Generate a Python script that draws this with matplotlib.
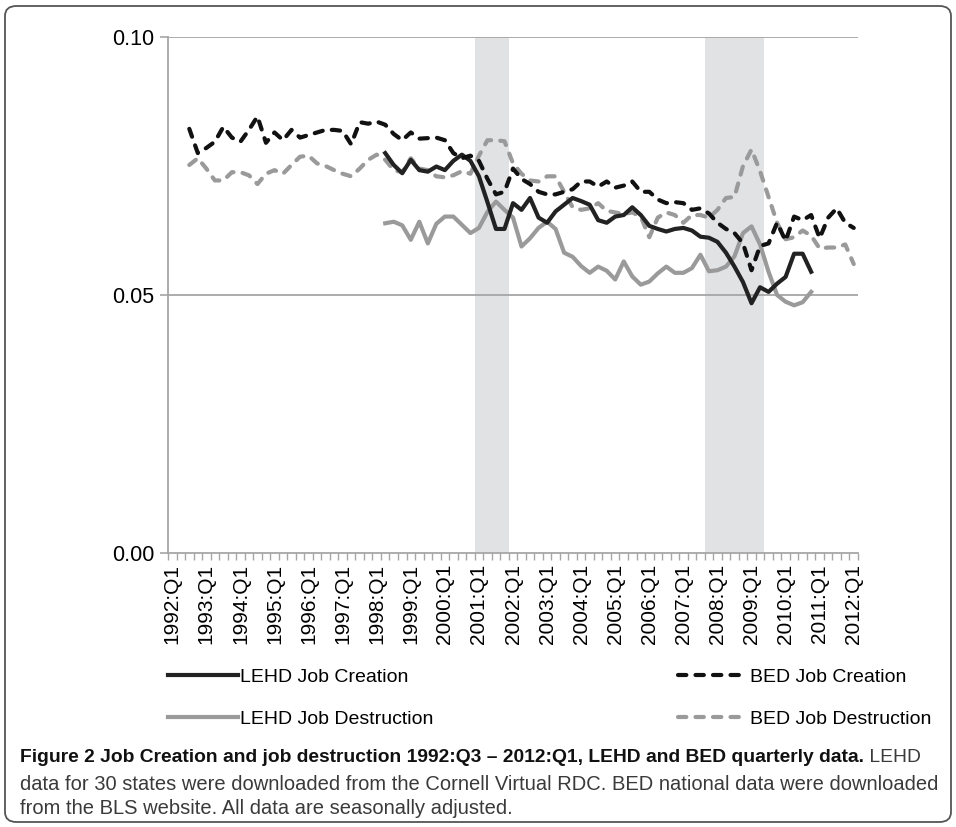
import numpy as np
import matplotlib
matplotlib.use("Agg")
import matplotlib.pyplot as plt
from matplotlib.patches import FancyBboxPatch

plt.rcParams['font.family'] = ['Liberation Sans', 'DejaVu Sans']

# quarters 1992:Q1 .. 2012:Q1
quarters = [f"{y}:Q{q}" for y in range(1992, 2013) for q in range(1, 5)][:81]
nan = np.nan

bed_jc = [nan, nan,
          0.0822, 0.0775, 0.0785, 0.0797, 0.0826,
          0.0805, 0.0797, 0.0820, 0.0846, 0.0795,
          0.0815, 0.0800, 0.0820, 0.0805, 0.0810,
          0.0815, 0.0820, 0.0820, 0.0818, 0.0792,
          0.0835, 0.0832, 0.0836, 0.0830, 0.0812,
          0.0800, 0.0815, 0.0803, 0.0804, 0.0805,
          0.0800, 0.0775, 0.0765, 0.0770, 0.0760,
          0.0725, 0.0695, 0.0700, 0.0745, 0.0725,
          0.0715, 0.0700, 0.0695, 0.0695, 0.0700,
          0.0705, 0.0720, 0.0720, 0.0710, 0.0720,
          0.0708, 0.0712, 0.0720, 0.0700, 0.0700,
          0.0685, 0.0678, 0.0680, 0.0678, 0.0665,
          0.0668, 0.0658, 0.0640, 0.0628, 0.0620,
          0.0600, 0.0548, 0.0595, 0.0600, 0.0640,
          0.0605, 0.0652, 0.0645, 0.0655, 0.0610,
          0.0650, 0.0668, 0.0640, 0.0630]

bed_jd = [nan, nan,
          0.0752, 0.0765, 0.0745, 0.0722, 0.0722,
          0.0738, 0.0738, 0.0732, 0.0715, 0.0735,
          0.0742, 0.0735, 0.0752, 0.0768, 0.0770,
          0.0755, 0.0750, 0.0742, 0.0735, 0.0730,
          0.0745, 0.0762, 0.0772, 0.0762, 0.0742,
          0.0738, 0.0765, 0.0745, 0.0742, 0.0730,
          0.0728, 0.0732, 0.0740, 0.0735, 0.0770,
          0.0800, 0.0800, 0.0798, 0.0755, 0.0735,
          0.0722, 0.0720, 0.0730, 0.0730, 0.0700,
          0.0670, 0.0665, 0.0668, 0.0678, 0.0663,
          0.0660, 0.0657, 0.0660, 0.0652, 0.0612,
          0.0650, 0.0660, 0.0655, 0.0640, 0.0655,
          0.0655, 0.0650, 0.0665, 0.0688, 0.0690,
          0.0750, 0.0782, 0.0740, 0.0690, 0.0640,
          0.0608, 0.0612, 0.0625, 0.0615, 0.0590,
          0.0592, 0.0592, 0.0598, 0.0560]

lehd_jc = [nan] * 25 + [
          0.0775, 0.0752, 0.0736, 0.0762, 0.0742,
          0.0739, 0.0749, 0.0742, 0.0760, 0.0772,
          0.0760, 0.0730, 0.0680, 0.0628, 0.0628,
          0.0678, 0.0665, 0.0688, 0.0650, 0.0640,
          0.0662, 0.0675, 0.0688, 0.0682, 0.0675,
          0.0645, 0.0640, 0.0652, 0.0655, 0.0670,
          0.0655, 0.0634, 0.0628, 0.0623, 0.0628,
          0.0630, 0.0625, 0.0613, 0.0611, 0.0603,
          0.0582, 0.0555, 0.0525, 0.0484, 0.0515,
          0.0506, 0.0522, 0.0535, 0.0580, 0.0580,
          0.0545] + [nan] * 5

lehd_jd = [nan] * 25 + [
          0.0639, 0.0642, 0.0635, 0.0607, 0.0642,
          0.0600, 0.0638, 0.0652, 0.0652, 0.0636,
          0.0620, 0.0630, 0.0661, 0.0681, 0.0665,
          0.0650, 0.0594, 0.0610, 0.0630, 0.0642,
          0.0628, 0.0582, 0.0574, 0.0556, 0.0543,
          0.0555, 0.0547, 0.0530, 0.0565, 0.0536,
          0.0520, 0.0526, 0.0542, 0.0555, 0.0543,
          0.0543, 0.0552, 0.0578, 0.0546, 0.0548,
          0.0555, 0.0575, 0.0620, 0.0633, 0.0598,
          0.0545, 0.0500, 0.0487, 0.0480, 0.0486,
          0.0506] + [nan] * 5

# recession quarters (shaded)
recessions = [("2001:Q1", "2001:Q4"), ("2007:Q4", "2009:Q2")]

fig = plt.figure(figsize=(9.56, 8.27), dpi=100)
ax = fig.add_axes([168 / 956, 1 - 553 / 827, 690 / 956, 516 / 827])

x = np.arange(len(quarters))
grid_c = '#a6a6a6'

for start, end in recessions:
    i0, i1 = quarters.index(start), quarters.index(end)
    idx = np.arange(i0, i1 + 1)
    ax.bar(idx, [0.10] * len(idx), width=1.0, color='#e1e2e4', zorder=0)

for v in [0.05, 0.10]:
    ax.axhline(v, color=grid_c, lw=1.3, zorder=1)

lw = 3.0
dash = dict(dashes=(2.0, 2.2), dash_capstyle='round')
l1, = ax.plot(x, lehd_jc, color='#222222', lw=lw, label='LEHD Job Creation', zorder=3)
l2, = ax.plot(x, bed_jc, color='#111111', lw=lw, label='BED Job Creation', zorder=3, **dash)
l3, = ax.plot(x, lehd_jd, color='#9a9a9a', lw=lw, label='LEHD Job Destruction', zorder=2)
l4, = ax.plot(x, bed_jd, color='#9a9a9a', lw=lw, label='BED Job Destruction', zorder=2, **dash)

ax.set_xlim(-0.5, len(quarters) - 0.5)
ax.set_ylim(0, 0.10)
ax.set_yticks([0.0, 0.05, 0.10])
ax.set_yticklabels(['0.00', '0.05', '0.10'], fontsize=15.5)
ax.tick_params(axis='y', length=6, width=1.2, color=grid_c, pad=4)

ax.set_xticks(x[::4])
ax.set_xticklabels(quarters[::4], rotation=90, fontsize=15)
ax.set_xticks(np.arange(-0.5, len(quarters)), minor=True)
ax.tick_params(axis='x', which='major', length=0, pad=8)
ax.tick_params(axis='x', which='minor', length=5, width=1, color=grid_c)

for s in ['top', 'right']:
    ax.spines[s].set_visible(False)
for s in ['left', 'bottom']:
    ax.spines[s].set_color(grid_c)
    ax.spines[s].set_linewidth(1.3)

leg = fig.legend([l1, l3, l2, l4],
                 ['LEHD Job Creation', 'LEHD Job Destruction', 'BED Job Creation', 'BED Job Destruction'],
                 ncol=2, loc='upper left', bbox_to_anchor=(168 / 956, 1 - 668 / 827),
                 frameon=False, fontsize=14, handlelength=3.6, handletextpad=0.1,
                 columnspacing=12.6, labelspacing=1.25, borderpad=0, borderaxespad=0)

# caption
cap_font = ['Liberation Sans Narrow', 'Liberation Sans', 'DejaVu Sans']
t_bold = fig.text(20 / 956, 1 - 757 / 827,
                  'Figure 2 Job Creation and job destruction 1992:Q3 \u2013 2012:Q1, LEHD and BED quarterly data.',
                  fontsize=13.9, fontweight='bold', family=cap_font, va='center', color='#111111')
fig.canvas.draw()
bb = t_bold.get_window_extent()
fig.text(bb.x1 / 956, 1 - 757 / 827, ' LEHD', fontsize=13.9, family=cap_font, va='center', color='#3a3a3a')
fig.text(20 / 956, 1 - 784 / 827,
         'data for 30 states were downloaded from the Cornell Virtual RDC. BED national data were downloaded',
         fontsize=14.5, family=cap_font, va='center', color='#3a3a3a')
fig.text(20 / 956, 1 - 809 / 827,
         'from the BLS website. All data are seasonally adjusted.',
         fontsize=14.5, family=cap_font, va='center', color='#3a3a3a')

frame = FancyBboxPatch((5 / 956, 5 / 827), 946 / 956, 816 / 827,
                       boxstyle='round,pad=0,rounding_size=0.012',
                       transform=fig.transFigure, fill=False, ec='#555555', lw=1.3)
fig.patches.append(frame)

fig.savefig('out.png', dpi=100)
